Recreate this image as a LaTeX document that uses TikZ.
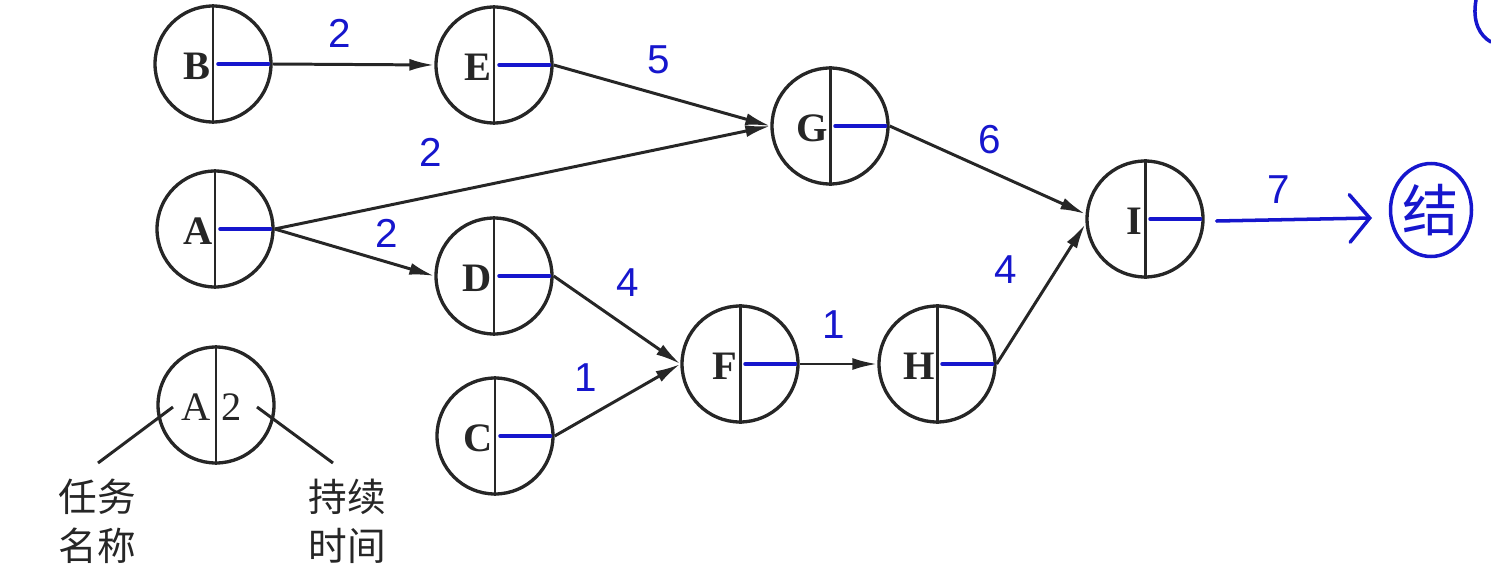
\documentclass[tikz,border=0pt]{standalone}
\usepackage{fontspec}
\setmainfont{Liberation Serif}
\newfontfamily\cjk{Noto Sans CJK SC}
\newfontfamily\hand{Liberation Sans}
\usetikzlibrary{arrows.meta,shapes.geometric}
\definecolor{handblue}{RGB}{22,22,205}
\tikzset{
  task/.style={circle, draw=black!85, line width=1.9pt, minimum size=2.32cm, inner sep=0pt},
  divider/.style={draw=black!85, line width=1.7pt},
  letter/.style={inner sep=0pt, font=\bfseries\fontsize{23}{26}\selectfont, text=black!85},
  legendletter/.style={inner sep=0pt, font=\fontsize{23}{26}\selectfont, text=black!85},
  handline/.style={draw=handblue, line width=2pt, line cap=round},
  edge/.style={draw=black!85, line width=1.7pt, -{Latex[length=0.5cm,width=0.24cm]}},
  digit/.style={text=handblue, font=\hand\fontsize{23}{25}\selectfont, inner sep=0pt},
  cjktext/.style={font=\cjk\fontsize{22}{28}\selectfont, align=center, inner sep=0pt, text=black!85},
}
\newcommand\tasknode[3]{%
  \node[task] (#1) at (#2) {};
  \draw[divider] (#1.north) -- (#1.south);
  \node[letter, anchor=east] (#1l) at ([xshift=-0.04cm,yshift=-0.05cm]#1.center) {#3};
  \draw[handline] ([xshift=0.1cm]#1.center) -- ([xshift=-0.08cm]#1.east);
}
\begin{document}
\begin{tikzpicture}[x=0.02cm,y=-0.02cm]
\useasboundingbox (0,0) rectangle (1491,588);
% task nodes
\tasknode{B}{213,64}{B}
\tasknode{E}{494,65}{E}
\tasknode{G}{830,126}{G}
\tasknode{A}{215,229}{A}
\tasknode{D}{494,276}{D}
\tasknode{F}{740,364}{F}
\tasknode{H}{937,364}{H}
\tasknode{C}{495,436}{C}
\tasknode{I}{1145,219}{I}
% edges
\draw[edge] (B.east) -- (E.west);
\draw[edge] (E.east) -- (G.west);
\draw[edge] (A.east) -- (G.west);
\draw[edge] (A.east) -- (D.west);
\draw[edge] (D.east) -- (F.west);
\draw[edge] (C.east) -- (F.west);
\draw[edge] (F.east) -- (H.west);
\draw[edge] (G.east) -- ([yshift=0.1cm]I.west);
\draw[edge] (H.east) -- ([yshift=-0.1cm]I.west);
% handwritten durations
\node[digit] (dBE) at (340,33) {2};
\node[digit] (dEG) at (659,60) {5};
\node[digit] (dAG) at (431,152) {2};
\node[digit] (dAD) at (387,233) {2};
\node[digit] (dDF) at (628,283) {4};
\node[digit] (dCF) at (586,378) {1};
\node[digit] (dFH) at (834,325) {1};
\node[digit] (dGI) at (990,140) {6};
\node[digit] (dHI) at (1006,270) {4};
\node[digit] (dIend) at (1279,190) {7};
% end node
\node[ellipse, draw=handblue, line width=2pt, minimum width=1.62cm, minimum height=1.86cm, inner sep=0pt,
      text=handblue, font=\cjk\fontsize{32}{34}\selectfont] (end) at (1431,210) {结};
\coordinate (arrowEnd) at (1372,218);
\draw[handline, -{Straight Barb[length=0.4cm,width=0.95cm,line cap=round]}] ([xshift=0.24cm,yshift=-0.04cm]I.east) -- (arrowEnd);
\draw[handline] (1476,0) .. controls (1472,22) and (1480,36) .. (1491,42);
% legend
\node[task] (L) at (216,405) {};
\draw[divider] (L.north) -- (L.south);
\node[legendletter, anchor=east] (Ll) at ([xshift=-0.1cm,yshift=-0.05cm]L.center) {A};
\node[legendletter, anchor=west] (Lr) at ([xshift=0.1cm,yshift=-0.05cm]L.center) {2};
\node[cjktext] (name) at (97,521) {任务\\名称};
\node[cjktext] (dur) at (347,521) {持续\\时间};
\coordinate (nameTop) at (98,463);
\coordinate (durTop) at (333,463);
\draw[divider] (173,407) -- (nameTop);
\draw[divider] (257,407) -- (durTop);
\end{tikzpicture}
\end{document}
